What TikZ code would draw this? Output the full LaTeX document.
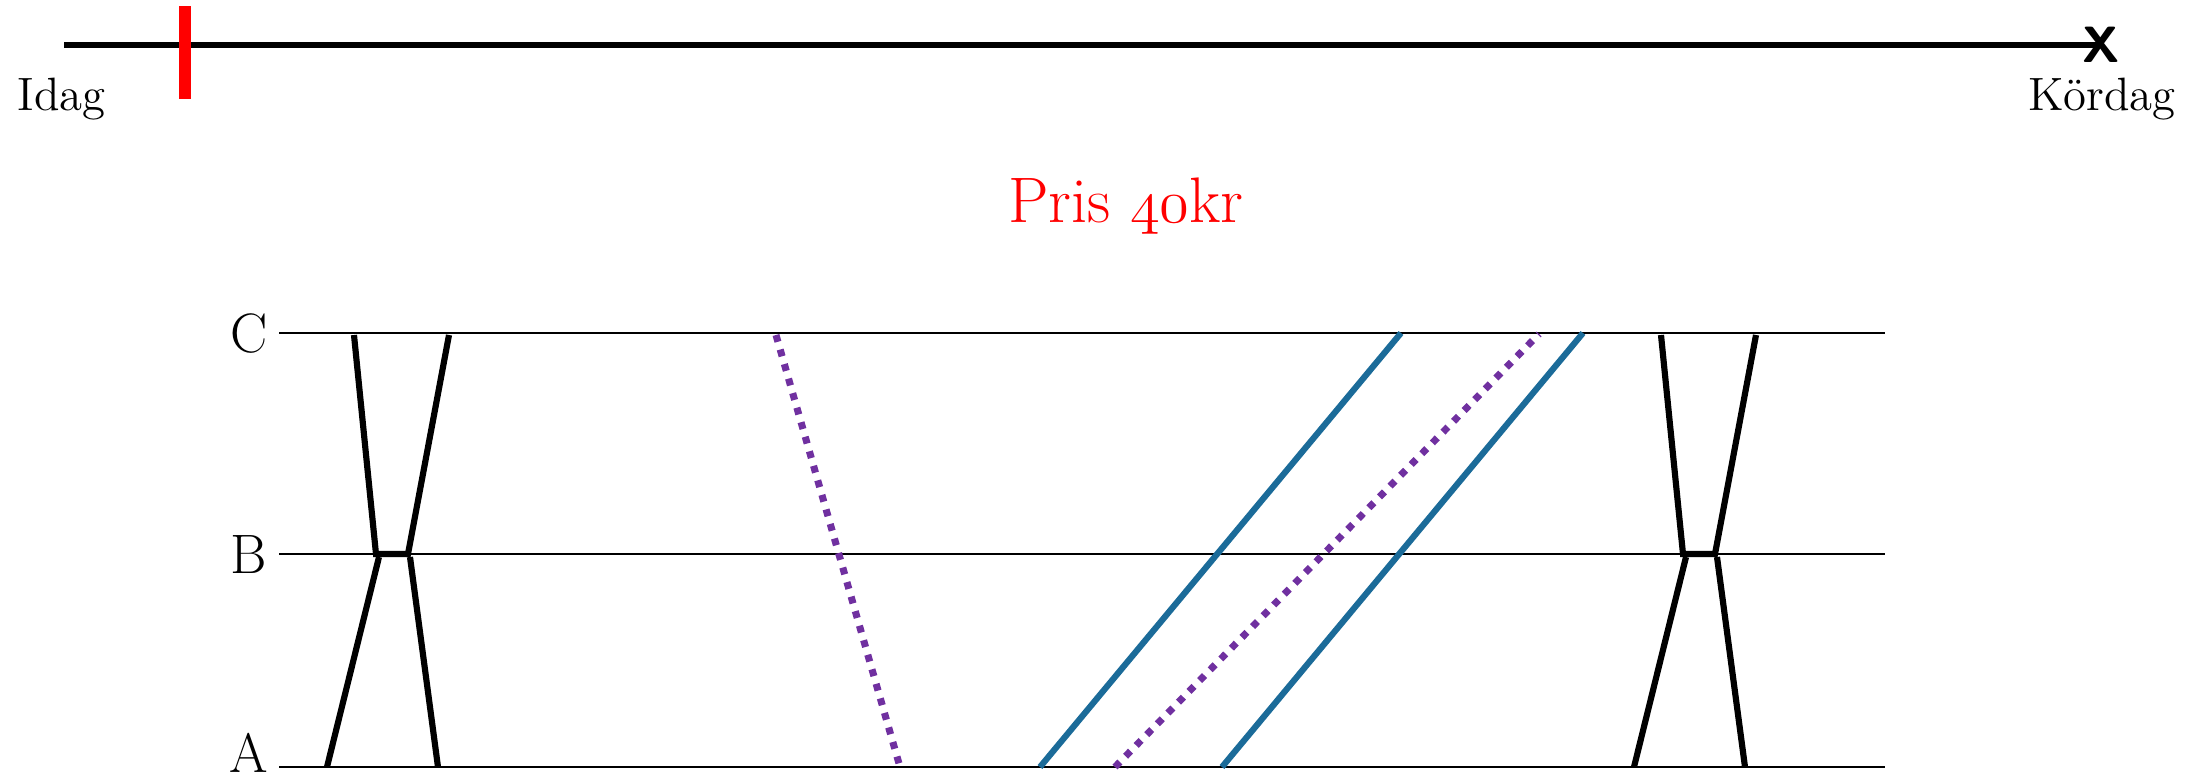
\documentclass[tikz,border=0pt]{standalone}
\usepackage{fontspec}
\newcommand\osnum[1]{{\usefont{OML}{cmm}{m}{it}#1}}
\begin{document}
\begin{tikzpicture}[x=0.01cm,y=-0.01cm,
  lbl/.style={font=\fontsize{13.3}{16}\selectfont,inner sep=0pt},
  lanelbl/.style={inner sep=0pt,anchor=base,font=\fontsize{15.8}{18}\selectfont},
  lane/.style={line width=0.72pt,black},
  hg/.style={line width=1.75pt,black},
  blueln/.style={line width=1.75pt,color=myblue},
  purp/.style={line width=2pt,color=mypurple,dash pattern=on 2pt off 2.3pt}]
\definecolor{myblue}{RGB}{27,107,153}
\definecolor{mypurple}{RGB}{112,48,160}
\useasboundingbox (0,0) rectangle (2199,778);
% timeline
\coordinate (tstart) at (64,45);
\node[inner sep=0pt,font=\sffamily\bfseries\fontsize{14.5}{16}\selectfont] (xmark) at (2101,45) {X};
\draw[line width=1.7pt] (tstart) -- (xmark.center);
\coordinate (rtop) at (185,6);
\coordinate (rbot) at (185,99);
\draw[red,line width=3.4pt] (rtop) -- (rbot);
\node[lbl,anchor=base west] (idag) at (17,110) {Idag};
\node[lbl,anchor=base east] (kordag) at (2176,110) {Kördag};
\node[red,inner sep=0pt,anchor=base,font=\fontsize{18.3}{22}\selectfont] (pris) at (1126,222) {Pris \osnum{40}kr};
% lanes
\node[lanelbl] (C) at (249,352) {C};
\node[lanelbl] (B) at (249,573) {B};
\node[lanelbl] (A) at (249,772) {A};
\coordinate (Cs) at (279,333); \coordinate (Ce) at (1885,333);
\coordinate (Bs) at (279,554); \coordinate (Be) at (1885,554);
\coordinate (As) at (279,767); \coordinate (Ae) at (1885,767);
\draw[lane] (Cs) -- (Ce);
\draw[lane] (Bs) -- (Be);
\draw[lane] (As) -- (Ae);
% left hourglass
\draw[hg] (354,335) -- (376,554) -- (408,554) -- (449,335);
\draw[hg] (327,767) -- (379,557);
\draw[hg] (410,557) -- (438,767);
% right hourglass
\draw[hg] (1661,335) -- (1683,554) -- (1715,554) -- (1756,335);
\draw[hg] (1634,767) -- (1686,557);
\draw[hg] (1717,557) -- (1745,767);
% purple dotted
\draw[purp] (776,335) -- (900,767);
\draw[purp] (1115,767) -- (1539,334);
% blue
\draw[blueln] (1040,767) -- (1401,333);
\draw[blueln] (1222,767) -- (1583,333);
\end{tikzpicture}
\end{document}
